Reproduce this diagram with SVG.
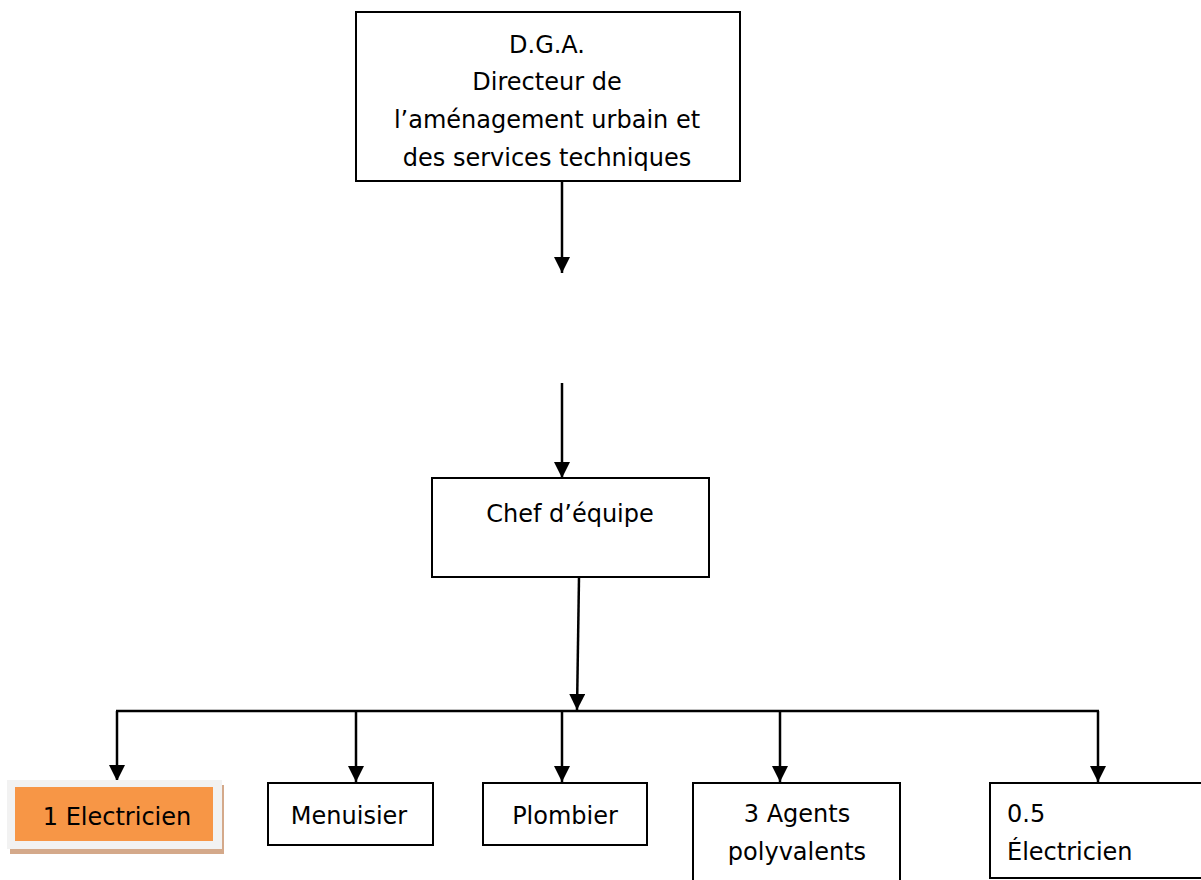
<svg xmlns="http://www.w3.org/2000/svg" width="1201" height="880" viewBox="0 0 1201 880">
<style>
.box{fill:#fff;stroke:#000;stroke-width:2}
.t{font-family:"DejaVu Sans","Liberation Sans",sans-serif;font-size:24px;fill:#000}
.c{text-anchor:middle}
.ln{fill:none;stroke:#000;stroke-width:2.5}
</style>
<defs>
<marker id="ah" markerUnits="userSpaceOnUse" markerWidth="16" markerHeight="16" viewBox="0 0 16 16" refX="16" refY="8" orient="auto">
<path d="M0,0 L16,8 L0,16 z" fill="#000"/>
</marker>
</defs>
<rect width="1201" height="880" fill="#fff"/>
<g id="connectors">
<line class="ln" x1="562" y1="181" x2="562" y2="273" marker-end="url(#ah)"/>
<line class="ln" x1="562" y1="383" x2="562" y2="478" marker-end="url(#ah)"/>
<line class="ln" x1="579" y1="577" x2="577" y2="710" marker-end="url(#ah)"/>
<line class="ln" x1="116" y1="711" x2="1099" y2="711"/>
<line class="ln" x1="117" y1="711" x2="117" y2="781" marker-end="url(#ah)"/>
<line class="ln" x1="356" y1="711" x2="356" y2="782" marker-end="url(#ah)"/>
<line class="ln" x1="562" y1="711" x2="562" y2="782" marker-end="url(#ah)"/>
<line class="ln" x1="780" y1="711" x2="780" y2="782" marker-end="url(#ah)"/>
<line class="ln" x1="1098" y1="711" x2="1098" y2="782" marker-end="url(#ah)"/>
</g>
<g id="dga">
<rect class="box" x="356" y="12" width="384" height="169"/>
<text class="t c" x="547" y="53">D.G.A.</text>
<text class="t c" x="547" y="90">Directeur de</text>
<text class="t c" x="547" y="128">l’aménagement urbain et</text>
<text class="t c" x="547" y="166">des services techniques</text>
</g>
<g id="chef">
<rect class="box" x="432" y="478" width="277" height="99"/>
<text class="t c" x="570" y="522">Chef d’équipe</text>
</g>
<g id="electricien1">
<rect x="10" y="785" width="214" height="69" fill="#d4a98a"/>
<rect x="7" y="780" width="215" height="69" fill="#f2f2f2"/>
<rect x="15" y="787" width="198" height="54" fill="#f79646"/>
<text class="t c" x="117" y="825">1 Electricien</text>
</g>
<g id="menuisier">
<rect class="box" x="268" y="783" width="165" height="62"/>
<text class="t c" x="349" y="824">Menuisier</text>
</g>
<g id="plombier">
<rect class="box" x="483" y="783" width="164" height="62"/>
<text class="t c" x="565" y="824">Plombier</text>
</g>
<g id="agents">
<rect class="box" x="693" y="783" width="207" height="110"/>
<text class="t c" x="797" y="822">3 Agents</text>
<text class="t c" x="797" y="860">polyvalents</text>
</g>
<g id="electricien05">
<rect class="box" x="990" y="783" width="230" height="95"/>
<text class="t" x="1007" y="822">0.5</text>
<text class="t" x="1007" y="860">Électricien</text>
</g>
</svg>
